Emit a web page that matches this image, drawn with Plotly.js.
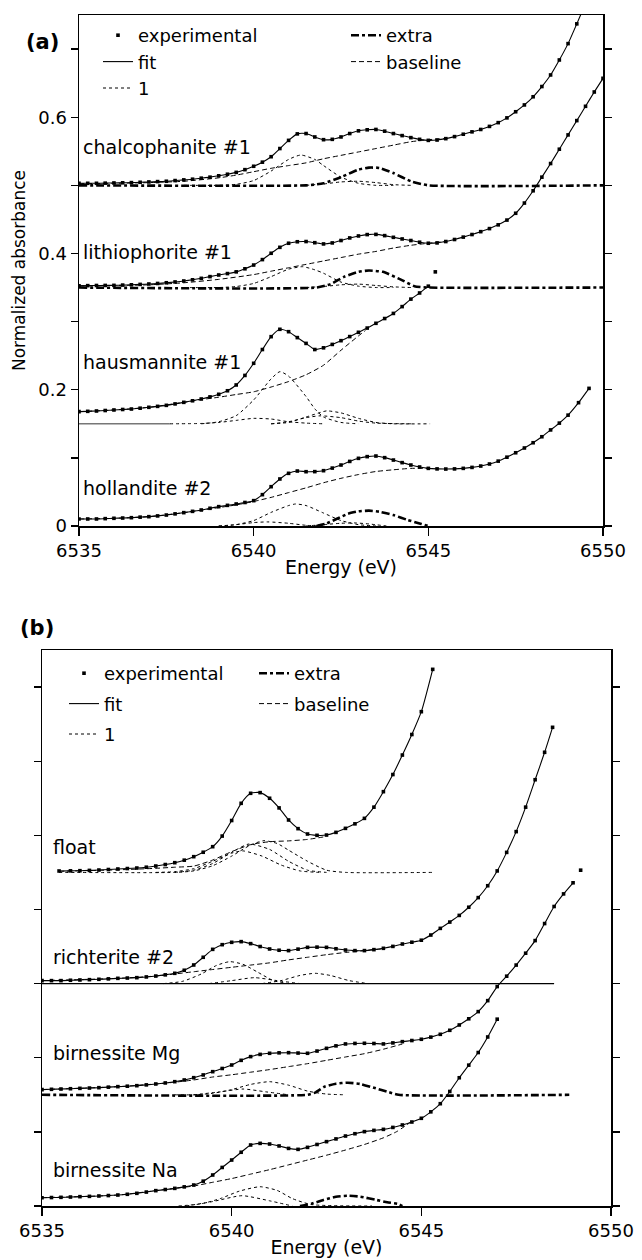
<!DOCTYPE html>
<html><head><meta charset="utf-8">
<script src="https://cdn.plot.ly/plotly-3.0.1.min.js"></script>
<style>html,body{margin:0;padding:0;background:#fff}#chart{width:642px;height:1260px}</style>
</head><body><div id="chart"></div>
<script>
// ---------- axis ticks ----------
const xTicks = [6535, 6540, 6545, 6550];
const xTickText = ['6535', '6540', '6545', '6550'];
const yTicks = [0, 0.1, 0.2, 0.3, 0.4, 0.5, 0.6, 0.7];
const yTickTextA = ['0', '', '0.2', '', '0.4', '', '0.6', ''];
const yTickTextB = ['', '', '', '', '', '', '', ''];
const legendNames = ['experimental', 'fit', '1', 'extra', 'baseline'];

// ---------- panel (a): [energy eV, absorbance] ----------
const chalcExp = [[6535,.503],[6535.25,.503],[6535.5,.503],[6535.75,.5032],[6536,.5035],[6536.25,.5037],[6536.5,.504],[6536.75,.5045],[6537,.505],[6537.25,.5055],[6537.5,.506],[6537.75,.507],[6538,.508],[6538.25,.509],[6538.5,.5105],[6538.75,.512],[6539,.514],[6539.25,.5163],[6539.5,.519],[6539.75,.523],[6540,.528],[6540.25,.534],[6540.5,.542],[6540.75,.554],[6541,.566],[6541.25,.5755],[6541.5,.576],[6541.75,.571],[6542,.567],[6542.25,.5675],[6542.5,.571],[6542.75,.576],[6543,.580],[6543.25,.5815],[6543.5,.582],[6543.75,.5795],[6544,.576],[6544.25,.573],[6544.5,.570],[6544.75,.5675],[6545,.566],[6545.25,.5665],[6545.5,.5685],[6545.75,.5715],[6546,.575],[6546.25,.5785],[6546.5,.582],[6546.75,.5865],[6547,.592],[6547.25,.599],[6547.5,.608],[6547.75,.618],[6548,.630],[6548.25,.645],[6548.5,.662],[6548.75,.684],[6549,.708],[6549.25,.737],[6549.5,.767]];
const chalcBase = [[6535,.5025],[6536,.503],[6537,.504],[6538,.506],[6539,.511],[6539.5,.515],[6540,.520],[6540.5,.525],[6541,.529],[6541.5,.533],[6542,.539],[6542.5,.544],[6543,.549],[6543.5,.554],[6544,.559],[6544.5,.564],[6545,.567],[6545.5,.5685]];
const chalcC1 = [[6538,.5],[6539,.500],[6539.5,.5015],[6540,.507],[6540.5,.521],[6541,.538],[6541.35,.5445],[6541.75,.538],[6542,.529],[6542.5,.512],[6543,.503],[6543.5,.500],[6544,.5]];
const chalcC2 = [[6541.5,.500],[6542,.502],[6542.5,.505],[6543,.506],[6543.5,.504],[6544,.501],[6544.5,.500]];
const chalcExtra = [[6535,.5],[6541.5,.5],[6542,.503],[6542.5,.512],[6543,.523],[6543.3,.526],[6543.6,.5255],[6544,.518],[6544.5,.506],[6545,.5],[6550,.5]];

const lithExp = [[6535,.3527],[6535.25,.3528],[6535.5,.353],[6535.75,.3531],[6536,.3532],[6536.25,.3536],[6536.5,.354],[6536.75,.3546],[6537,.3552],[6537.25,.356],[6537.5,.357],[6537.75,.3582],[6538,.3596],[6538.25,.3614],[6538.5,.3635],[6538.75,.366],[6539,.3684],[6539.25,.3705],[6539.5,.373],[6539.75,.3775],[6540,.383],[6540.25,.391],[6540.5,.4003],[6540.75,.409],[6541,.415],[6541.25,.4172],[6541.5,.4175],[6541.75,.4158],[6542,.414],[6542.25,.4155],[6542.5,.419],[6542.75,.4228],[6543,.4257],[6543.25,.4277],[6543.5,.428],[6543.75,.4262],[6544,.4237],[6544.25,.4213],[6544.5,.419],[6544.75,.4165],[6545,.415],[6545.25,.4155],[6545.5,.4175],[6545.75,.4205],[6546,.424],[6546.25,.4278],[6546.5,.432],[6546.75,.4365],[6547,.442],[6547.25,.449],[6547.5,.459],[6547.75,.474],[6548,.492],[6548.25,.512],[6548.5,.532],[6548.75,.553],[6549,.574],[6549.25,.595],[6549.5,.616],[6549.75,.637],[6550,.657]];
const lithBase = [[6535,.3525],[6536,.353],[6537,.354],[6538,.357],[6539,.362],[6540,.369],[6540.5,.374],[6541,.379],[6541.5,.384],[6542,.389],[6542.5,.394],[6543,.399],[6543.5,.403],[6544,.408],[6544.5,.412],[6545,.415],[6545.5,.4175]];
const lithC1 = [[6538,.35],[6539,.350],[6539.5,.3515],[6540,.356],[6540.5,.366],[6541,.377],[6541.4,.3806],[6541.75,.376],[6542,.371],[6542.5,.358],[6543,.352],[6543.5,.350],[6544,.35]];
const lithC2 = [[6541.5,.350],[6542,.3515],[6542.5,.354],[6543,.355],[6543.5,.353],[6544,.351],[6544.5,.350]];
const lithExtra = [[6535,.35],[6541.8,.35],[6542.2,.355],[6542.6,.366],[6543,.373],[6543.3,.375],[6543.7,.373],[6544.2,.362],[6544.6,.352],[6545,.35],[6550,.35]];

const hausExp = [[6535,.1678],[6535.25,.1683],[6535.5,.1688],[6535.75,.1695],[6536,.1703],[6536.25,.171],[6536.5,.1717],[6536.75,.1729],[6537,.1742],[6537.25,.1756],[6537.5,.1771],[6537.75,.1792],[6538,.1815],[6538.25,.1838],[6538.5,.1864],[6538.75,.1895],[6539,.1933],[6539.25,.1985],[6539.5,.207],[6539.75,.221],[6540,.2388],[6540.25,.259],[6540.5,.2779],[6540.75,.2887],[6541,.2852],[6541.25,.2765],[6541.5,.268],[6541.75,.259],[6542,.2615],[6542.25,.2665],[6542.5,.272],[6542.75,.278],[6543,.2843],[6543.25,.2905],[6543.5,.2975],[6543.75,.3045],[6544,.312],[6544.25,.322],[6544.5,.333],[6544.75,.342],[6545,.352],[6545.2,.373]];
const hausZero = [[6535,.15],[6537.6,.15]];
const hausBase = [[6535,.1678],[6536,.1703],[6537,.1742],[6538,.1815],[6538.5,.1855],[6539,.1890],[6539.5,.193],[6540,.197],[6540.5,.204],[6541,.212],[6541.5,.222],[6542,.236],[6542.5,.258],[6543,.279],[6543.2,.287]];
const hausC1 = [[6538.5,.150],[6539,.153],[6539.5,.162],[6540,.185],[6540.5,.216],[6540.75,.2265],[6541,.220],[6541.5,.190],[6541.75,.172],[6542,.160],[6542.5,.152],[6543,.150]];
const hausC2 = [[6537.6,.150],[6538.5,.1505],[6539,.152],[6539.5,.155],[6540,.158],[6540.5,.157],[6541,.153],[6541.5,.151],[6542,.150]];
const hausC3 = [[6540.5,.150],[6541,.152],[6541.5,.160],[6542,.168],[6542.1,.169],[6542.5,.166],[6543,.158],[6543.5,.152],[6544,.150],[6545.05,.150]];
const hausC4 = [[6540.5,.150],[6541,.153],[6541.5,.159],[6541.9,.1617],[6542.5,.159],[6543,.154],[6543.5,.151],[6544.5,.150]];

const hollExp = [[6535,.0103],[6535.25,.0103],[6535.5,.0103],[6535.75,.0108],[6536,.0113],[6536.25,.0117],[6536.5,.0122],[6536.75,.013],[6537,.0137],[6537.25,.0148],[6537.5,.0161],[6537.75,.0178],[6538,.0196],[6538.25,.0215],[6538.5,.0235],[6538.75,.026],[6539,.0284],[6539.25,.0303],[6539.5,.0323],[6539.75,.0345],[6540,.0372],[6540.25,.046],[6540.5,.0577],[6540.75,.069],[6541,.0773],[6541.25,.0807],[6541.5,.0797],[6541.75,.0798],[6542,.0812],[6542.25,.085],[6542.5,.0895],[6542.75,.0948],[6543,.0993],[6543.25,.1018],[6543.5,.1027],[6543.75,.1003],[6544,.0968],[6544.25,.093],[6544.5,.0895],[6544.75,.0866],[6545,.0846],[6545.25,.0838],[6545.5,.0836],[6545.75,.0838],[6546,.0846],[6546.25,.086],[6546.5,.088],[6546.75,.091],[6547,.0952],[6547.25,.101],[6547.5,.1075],[6547.75,.1145],[6548,.1222],[6548.25,.131],[6548.5,.141],[6548.75,.151],[6549,.1627],[6549.3,.181],[6549.6,.202]];
const hollBase = [[6535,.0103],[6536,.0113],[6537,.0137],[6538,.0196],[6539,.027],[6539.5,.031],[6540,.036],[6540.5,.042],[6541,.049],[6541.5,.056],[6542,.0635],[6542.5,.070],[6543,.0755],[6543.5,.080],[6544,.0825],[6544.5,.0846],[6545,.0846]];
const hollC1 = [[6539,0],[6539.5,.002],[6540,.008],[6540.5,.020],[6541,.030],[6541.2,.0323],[6541.5,.030],[6542,.019],[6542.5,.008],[6543,.002],[6543.5,0]];
const hollC2 = [[6539,0],[6539.5,.002],[6540,.005],[6540.4,.006],[6541,.004],[6541.5,.001],[6542,0]];
const hollC3 = [[6541.5,0],[6542,.002],[6542.5,.004],[6542.9,.0045],[6543.3,.003],[6543.8,0]];
const hollExtra = [[6541.8,0],[6542.1,.004],[6542.4,.011],[6542.7,.018],[6543,.0215],[6543.3,.0225],[6543.6,.021],[6544,.016],[6544.4,.009],[6544.8,.003],[6545,0]];

// ---------- panel (b) ----------
const floatExp = [[6535.45,.4519],[6535.75,.4521],[6536,.4523],[6536.25,.4527],[6536.5,.4532],[6536.75,.4539],[6537,.4546],[6537.25,.4552],[6537.5,.4559],[6537.75,.457],[6538,.4586],[6538.25,.4606],[6538.5,.4631],[6538.75,.4665],[6539,.4712],[6539.25,.4772],[6539.5,.4847],[6539.75,.499],[6540,.52],[6540.25,.5432],[6540.5,.5567],[6540.75,.5576],[6541,.55],[6541.25,.537],[6541.5,.5207],[6541.75,.509],[6542,.5018],[6542.25,.5],[6542.5,.5004],[6542.75,.504],[6543,.5094],[6543.25,.5155],[6543.5,.5229],[6543.75,.538],[6544,.5589],[6544.25,.582],[6544.5,.6083],[6544.75,.636],[6545,.6668],[6545.3,.7239]];
const floatBase = [[6535.45,.4515],[6537,.4535],[6538,.4555],[6538.5,.457],[6539,.4585],[6539.5,.4667],[6540,.478],[6540.5,.4875],[6541,.4914],[6541.5,.4925],[6542,.4945],[6542.5,.4985]];
const floatC1 = [[6535.45,.45],[6538.5,.45],[6539,.452],[6539.5,.459],[6540,.472],[6540.5,.487],[6540.85,.4928],[6541.2,.489],[6541.5,.480],[6542,.465],[6542.5,.453],[6543,.450],[6545.3,.45]];
const floatC2 = [[6538.5,.45],[6539,.453],[6539.5,.462],[6540,.477],[6540.45,.4883],[6541,.481],[6541.5,.465],[6542,.453],[6542.5,.45]];
const floatC3 = [[6538,.45],[6538.5,.451],[6539,.455],[6539.5,.465],[6540,.476],[6540.3,.479],[6540.8,.472],[6541.3,.460],[6541.8,.452],[6542.3,.45]];

const richExp = [[6535,.304],[6535.25,.304],[6535.5,.304],[6535.75,.3045],[6536,.3049],[6536.25,.3053],[6536.5,.3058],[6536.75,.3064],[6537,.3071],[6537.25,.3075],[6537.5,.308],[6537.75,.309],[6538,.3102],[6538.25,.3118],[6538.5,.3139],[6538.75,.318],[6539,.3251],[6539.25,.3355],[6539.5,.3462],[6539.75,.3525],[6540,.3557],[6540.25,.3566],[6540.5,.3539],[6540.75,.35],[6541,.3467],[6541.25,.345],[6541.5,.3445],[6541.75,.3465],[6542,.3489],[6542.25,.3492],[6542.5,.3489],[6542.75,.347],[6543,.3453],[6543.25,.3445],[6543.5,.3445],[6543.75,.3458],[6544,.3476],[6544.25,.3502],[6544.5,.3534],[6544.75,.3558],[6545,.3585],[6545.25,.3655],[6545.5,.3745],[6545.75,.383],[6546,.392],[6546.25,.403],[6546.5,.416],[6546.75,.432],[6547,.452],[6547.25,.477],[6547.5,.505],[6547.75,.538],[6548,.575],[6548.25,.612],[6548.46,.6457]];
const richZero = [[6535,.30],[6548.5,.30]];
const richBase = [[6535,.304],[6537,.3071],[6538,.3102],[6538.5,.313],[6539,.316],[6539.5,.319],[6540,.322],[6540.5,.325],[6541,.328],[6541.5,.332],[6542,.3355],[6542.5,.339],[6543,.342],[6543.5,.3445],[6544,.347]];
const richC1 = [[6538.2,.30],[6538.7,.303],[6539.2,.313],[6539.6,.3245],[6539.95,.3296],[6540.3,.326],[6540.7,.315],[6541.1,.304],[6541.5,.30]];
const richC2 = [[6540.8,.30],[6541.3,.304],[6541.8,.311],[6542.2,.3139],[6542.6,.311],[6543.1,.304],[6543.6,.30]];
const richC3 = [[6539.4,.30],[6540,.304],[6540.6,.308],[6541.2,.304],[6541.8,.30]];

const mgExp = [[6535,.157],[6535.25,.1574],[6535.5,.1578],[6535.75,.1582],[6536,.1587],[6536.25,.1591],[6536.5,.1596],[6536.75,.1603],[6537,.161],[6537.25,.1616],[6537.5,.1623],[6537.75,.1634],[6538,.1646],[6538.25,.166],[6538.5,.1677],[6538.75,.17],[6539,.1731],[6539.25,.1768],[6539.5,.1812],[6539.75,.1855],[6540,.1902],[6540.25,.1965],[6540.5,.2015],[6540.75,.2045],[6541,.206],[6541.25,.2066],[6541.5,.2068],[6541.75,.2063],[6542,.206],[6542.25,.209],[6542.5,.2127],[6542.75,.216],[6543,.2186],[6543.25,.2193],[6543.5,.2195],[6543.75,.2192],[6544,.2186],[6544.25,.22],[6544.5,.2217],[6544.75,.2232],[6545,.2249],[6545.25,.2278],[6545.5,.2316],[6545.75,.237],[6546,.2442],[6546.25,.2525],[6546.5,.2622],[6546.75,.277],[6547,.296],[6547.25,.31],[6547.5,.325],[6547.75,.341],[6548,.358],[6548.25,.381],[6548.5,.404],[6548.75,.421],[6549,.436],[6549.2,.453]];
const mgBase = [[6535,.157],[6537,.161],[6538,.1646],[6538.5,.167],[6539,.170],[6539.5,.174],[6540,.177],[6540.5,.1805],[6541,.184],[6541.5,.188],[6542,.192],[6542.5,.1965],[6543,.201],[6543.5,.2055],[6544,.2115],[6544.5,.2185]];
const mgC1 = [[6538.5,.15],[6539,.15],[6539.5,.152],[6540,.157],[6540.5,.164],[6541,.1677],[6541.5,.163],[6542,.155],[6542.5,.151],[6543,.15]];
const mgC2 = [[6539,.15],[6539.7,.154],[6540.3,.1578],[6540.9,.154],[6541.5,.15]];
const mgExtra = [[6535,.15],[6542,.15],[6542.2,.153],[6542.45,.161],[6542.75,.165],[6543.06,.1663],[6543.4,.1645],[6543.8,.1587],[6544.1,.1542],[6544.4,.15],[6548.9,.15]];

const naExp = [[6535,.0112],[6535.25,.0114],[6535.5,.0117],[6535.75,.0121],[6536,.0126],[6536.25,.013],[6536.5,.0135],[6536.75,.0141],[6537,.0148],[6537.25,.0158],[6537.5,.0171],[6537.75,.0188],[6538,.0207],[6538.25,.0222],[6538.5,.0238],[6538.75,.0258],[6539,.0283],[6539.25,.0335],[6539.5,.0418],[6539.75,.052],[6540,.062],[6540.25,.0725],[6540.5,.0823],[6540.75,.0845],[6541,.0836],[6541.25,.081],[6541.5,.0777],[6541.75,.0764],[6542,.0791],[6542.25,.083],[6542.5,.0868],[6542.75,.0905],[6543,.0944],[6543.25,.0975],[6543.5,.1003],[6543.75,.102],[6544,.1034],[6544.25,.106],[6544.5,.1093],[6544.75,.1133],[6545,.1183],[6545.25,.127],[6545.5,.138],[6545.75,.1545],[6546,.173],[6546.25,.19],[6546.5,.207],[6546.75,.228],[6547,.252]];
const naBase = [[6535,.0112],[6537,.0148],[6538,.0207],[6538.5,.0238],[6539,.027],[6539.5,.032],[6540,.037],[6540.5,.043],[6541,.049],[6541.5,.0555],[6542,.062],[6542.5,.0685],[6543,.0755],[6543.5,.083],[6544,.092],[6544.35,.1003],[6544.7,.1125]];
const naC1 = [[6538.6,0],[6539.2,.003],[6539.7,.010],[6540.2,.020],[6540.75,.026],[6541.2,.021],[6541.6,.010],[6542.1,.002],[6543.7,0]];
const naC2 = [[6538.8,0],[6539.5,.006],[6540.27,.0139],[6541,.007],[6541.6,0]];
const naExtra = [[6541.8,0],[6542.1,.003],[6542.42,.0081],[6542.75,.0125],[6543.06,.0139],[6543.39,.0126],[6543.82,.0081],[6544.1,.005],[6544.4,.0027],[6544.5,0]];

// ---------- labels ----------
const labelsA = ['chalcophanite #1', 'lithiophorite #1', 'hausmannite #1', 'hollandite #2'];
const labelsAY = [.556, .402, .241, .0558];
const labelsB = ['float', 'richterite #2', 'birnessite Mg', 'birnessite Na'];
const labelsBY = [.4843, .336, .2064, .0486];

// ---------- styles ----------
const FONT = 'DejaVu Sans, Verdana, sans-serif';
const styles = {
  exp:   {mode: 'markers', marker: {symbol: 'square', size: 3.6, color: '#000'}},
  fit:   {mode: 'lines', line: {color: '#000', width: 1.1, shape: 'spline', smoothing: 0.6}},
  comp:  {mode: 'lines', line: {color: '#000', width: 1, dash: 'dot', shape: 'spline', smoothing: 0.6}},
  base:  {mode: 'lines', line: {color: '#000', width: 1, dash: '5px,3px', shape: 'spline', smoothing: 0.6}},
  extra: {mode: 'lines', line: {color: '#000', width: 2.6, dash: '8px,3px,3px,3px', shape: 'spline', smoothing: 0.5}},
  zeroG: {mode: 'lines', line: {color: '#777', width: 1.5}},
  zeroK: {mode: 'lines', line: {color: '#000', width: 1.3}}
};
const rank = {exp: 1, fit: 2, comp: 3, extra: 4, base: 5};
const nameOf = {exp: legendNames[0], fit: legendNames[1], comp: legendNames[2], extra: legendNames[3], base: legendNames[4]};

const xs = function (d) { return d.map(function (p) { return p[0]; }); };
const ys = function (d) { return d.map(function (p) { return p[1]; }); };

const traces = [];
function add(data, kind, panel, legendId) {
  const s = JSON.parse(JSON.stringify(styles[kind]));
  const t = Object.assign(s, {
    x: xs(data), y: ys(data), type: 'scatter', hoverinfo: 'skip',
    xaxis: panel === 'a' ? 'x' : 'x2', yaxis: panel === 'a' ? 'y' : 'y2',
    showlegend: false, cliponaxis: true
  });
  if (legendId) {
    t.showlegend = true; t.name = nameOf[kind]; t.legend = legendId;
    t.legendrank = rank[kind]; t.legendgroup = panel + kind;
  }
  traces.push(t);
}

// spectra: experimental points, fit drawn through them (fitDrop = trailing points not covered by the fit)
const specA = [
  {exp: chalcExp, fitDrop: 0, base: chalcBase, comps: [chalcC1, chalcC2], extra: chalcExtra,
   legend: {exp: 'legend', fit: 'legend', comp: 'legend', extra: 'legend2', base: 'legend2'}},
  {exp: lithExp, fitDrop: 0, base: lithBase, comps: [lithC1, lithC2], extra: lithExtra},
  {exp: hausExp, fitDrop: 1, base: hausBase, comps: [hausC1, hausC2, hausC3, hausC4], zeroG: hausZero},
  {exp: hollExp, fitDrop: 0, base: hollBase, comps: [hollC1, hollC2, hollC3], extra: hollExtra}
];
const specB = [
  {exp: floatExp, fitDrop: 0, base: floatBase, comps: [floatC1, floatC2, floatC3],
   legend: {exp: 'legend3', fit: 'legend3', comp: 'legend3', base: 'legend4'}},
  {exp: richExp, fitDrop: 0, base: richBase, comps: [richC1, richC2, richC3], zeroK: richZero},
  {exp: mgExp, fitDrop: 1, base: mgBase, comps: [mgC1, mgC2], extra: mgExtra, legend: {extra: 'legend4'}},
  {exp: naExp, fitDrop: 0, base: naBase, comps: [naC1, naC2], extra: naExtra}
];

function addPanel(specs, panel) {
  specs.forEach(function (sp) {
    const L = sp.legend || {};
    sp.comps.forEach(function (c, i) { add(c, 'comp', panel, i === 0 ? L.comp : null); });
    if (sp.zeroG) add(sp.zeroG, 'zeroG', panel);
    if (sp.zeroK) add(sp.zeroK, 'zeroK', panel);
    add(sp.base, 'base', panel, L.base);
    if (sp.extra) add(sp.extra, 'extra', panel, L.extra);
    add(sp.exp.slice(0, sp.exp.length - sp.fitDrop), 'fit', panel, L.fit);
    add(sp.exp, 'exp', panel, L.exp);
  });
}
addPanel(specA, 'a');
addPanel(specB, 'b');

const W = 642, H = 1260;
const axisCommon = {
  range: [6535, 6550], tickvals: xTicks, ticktext: xTickText, ticks: 'outside', ticklen: 8, tickwidth: 1.3,
  tickcolor: '#000', showline: true, linecolor: '#000', linewidth: 1.5, mirror: true, showgrid: false,
  zeroline: false, tickfont: {family: FONT, size: 18, color: '#000'}, automargin: false
};
const yCommon = {
  range: [0, 0.75], tickvals: yTicks, ticks: 'outside', ticklen: 7, tickwidth: 1.3, tickcolor: '#000',
  showline: true, linecolor: '#000', linewidth: 1.5, mirror: 'ticks', showgrid: false, zeroline: false,
  tickfont: {family: FONT, size: 18, color: '#000'}, automargin: false
};
const legCommon = {xanchor: 'left', yanchor: 'top', bgcolor: 'rgba(0,0,0,0)', borderwidth: 0,
  font: {family: FONT, size: 18, color: '#000'}, traceorder: 'grouped', tracegroupgap: 0, itemclick: false, itemdoubleclick: false};

const annotations = [
  {text: '<b>(a)</b>', xref: 'paper', yref: 'paper', x: 24 / W, y: 1 - 42 / H, xanchor: 'left', yanchor: 'middle', showarrow: false, font: {family: FONT, size: 21, color: '#000'}},
  {text: '<b>(b)</b>', xref: 'paper', yref: 'paper', x: 18 / W, y: 1 - 628 / H, xanchor: 'left', yanchor: 'middle', showarrow: false, font: {family: FONT, size: 21, color: '#000'}}
];
labelsA.forEach(function (s, i) {
  annotations.push({text: s, xref: 'x', yref: 'y', x: 6535.05, y: labelsAY[i], xanchor: 'left', yanchor: 'middle', showarrow: false, font: {family: FONT, size: 19, color: '#000'}});
});
labelsB.forEach(function (s, i) {
  annotations.push({text: s, xref: 'x2', yref: 'y2', x: 6535.25, y: labelsBY[i], xanchor: 'left', yanchor: 'middle', showarrow: false, font: {family: FONT, size: 19, color: '#000'}});
});

const layout = {
  width: W, height: H, margin: {l: 0, r: 0, t: 0, b: 0}, paper_bgcolor: '#fff', plot_bgcolor: '#fff',
  showlegend: true,
  xaxis: Object.assign({}, axisCommon, {domain: [79 / W, 603 / W], anchor: 'y',
    title: {text: 'Energy (eV)', font: {family: FONT, size: 19, color: '#000'}, standoff: 0}}),
  yaxis: Object.assign({}, yCommon, {domain: [1 - 526 / H, 1 - 15 / H], anchor: 'x', ticktext: yTickTextA,
    title: {text: 'Normalized absorbance', font: {family: FONT, size: 17, color: '#000'}, standoff: 8}}),
  xaxis2: Object.assign({}, axisCommon, {domain: [42 / W, 611 / W], anchor: 'y2',
    title: {text: 'Energy (eV)', font: {family: FONT, size: 19, color: '#000'}, standoff: 0}}),
  yaxis2: Object.assign({}, yCommon, {domain: [1 - 1206 / H, 1 - 650 / H], anchor: 'x2', ticktext: yTickTextB}),
  legend: Object.assign({}, legCommon, {x: 98 / W, y: 1 - 17 / H}),
  legend2: Object.assign({}, legCommon, {x: 346 / W, y: 1 - 17 / H}),
  legend3: Object.assign({}, legCommon, {x: 64 / W, y: 1 - 655 / H, tracegroupgap: 4}),
  legend4: Object.assign({}, legCommon, {x: 254 / W, y: 1 - 655 / H, tracegroupgap: 4}),
  annotations: annotations
};

Plotly.newPlot('chart', traces, layout, {displayModeBar: false, staticPlot: true});
</script></body></html>
